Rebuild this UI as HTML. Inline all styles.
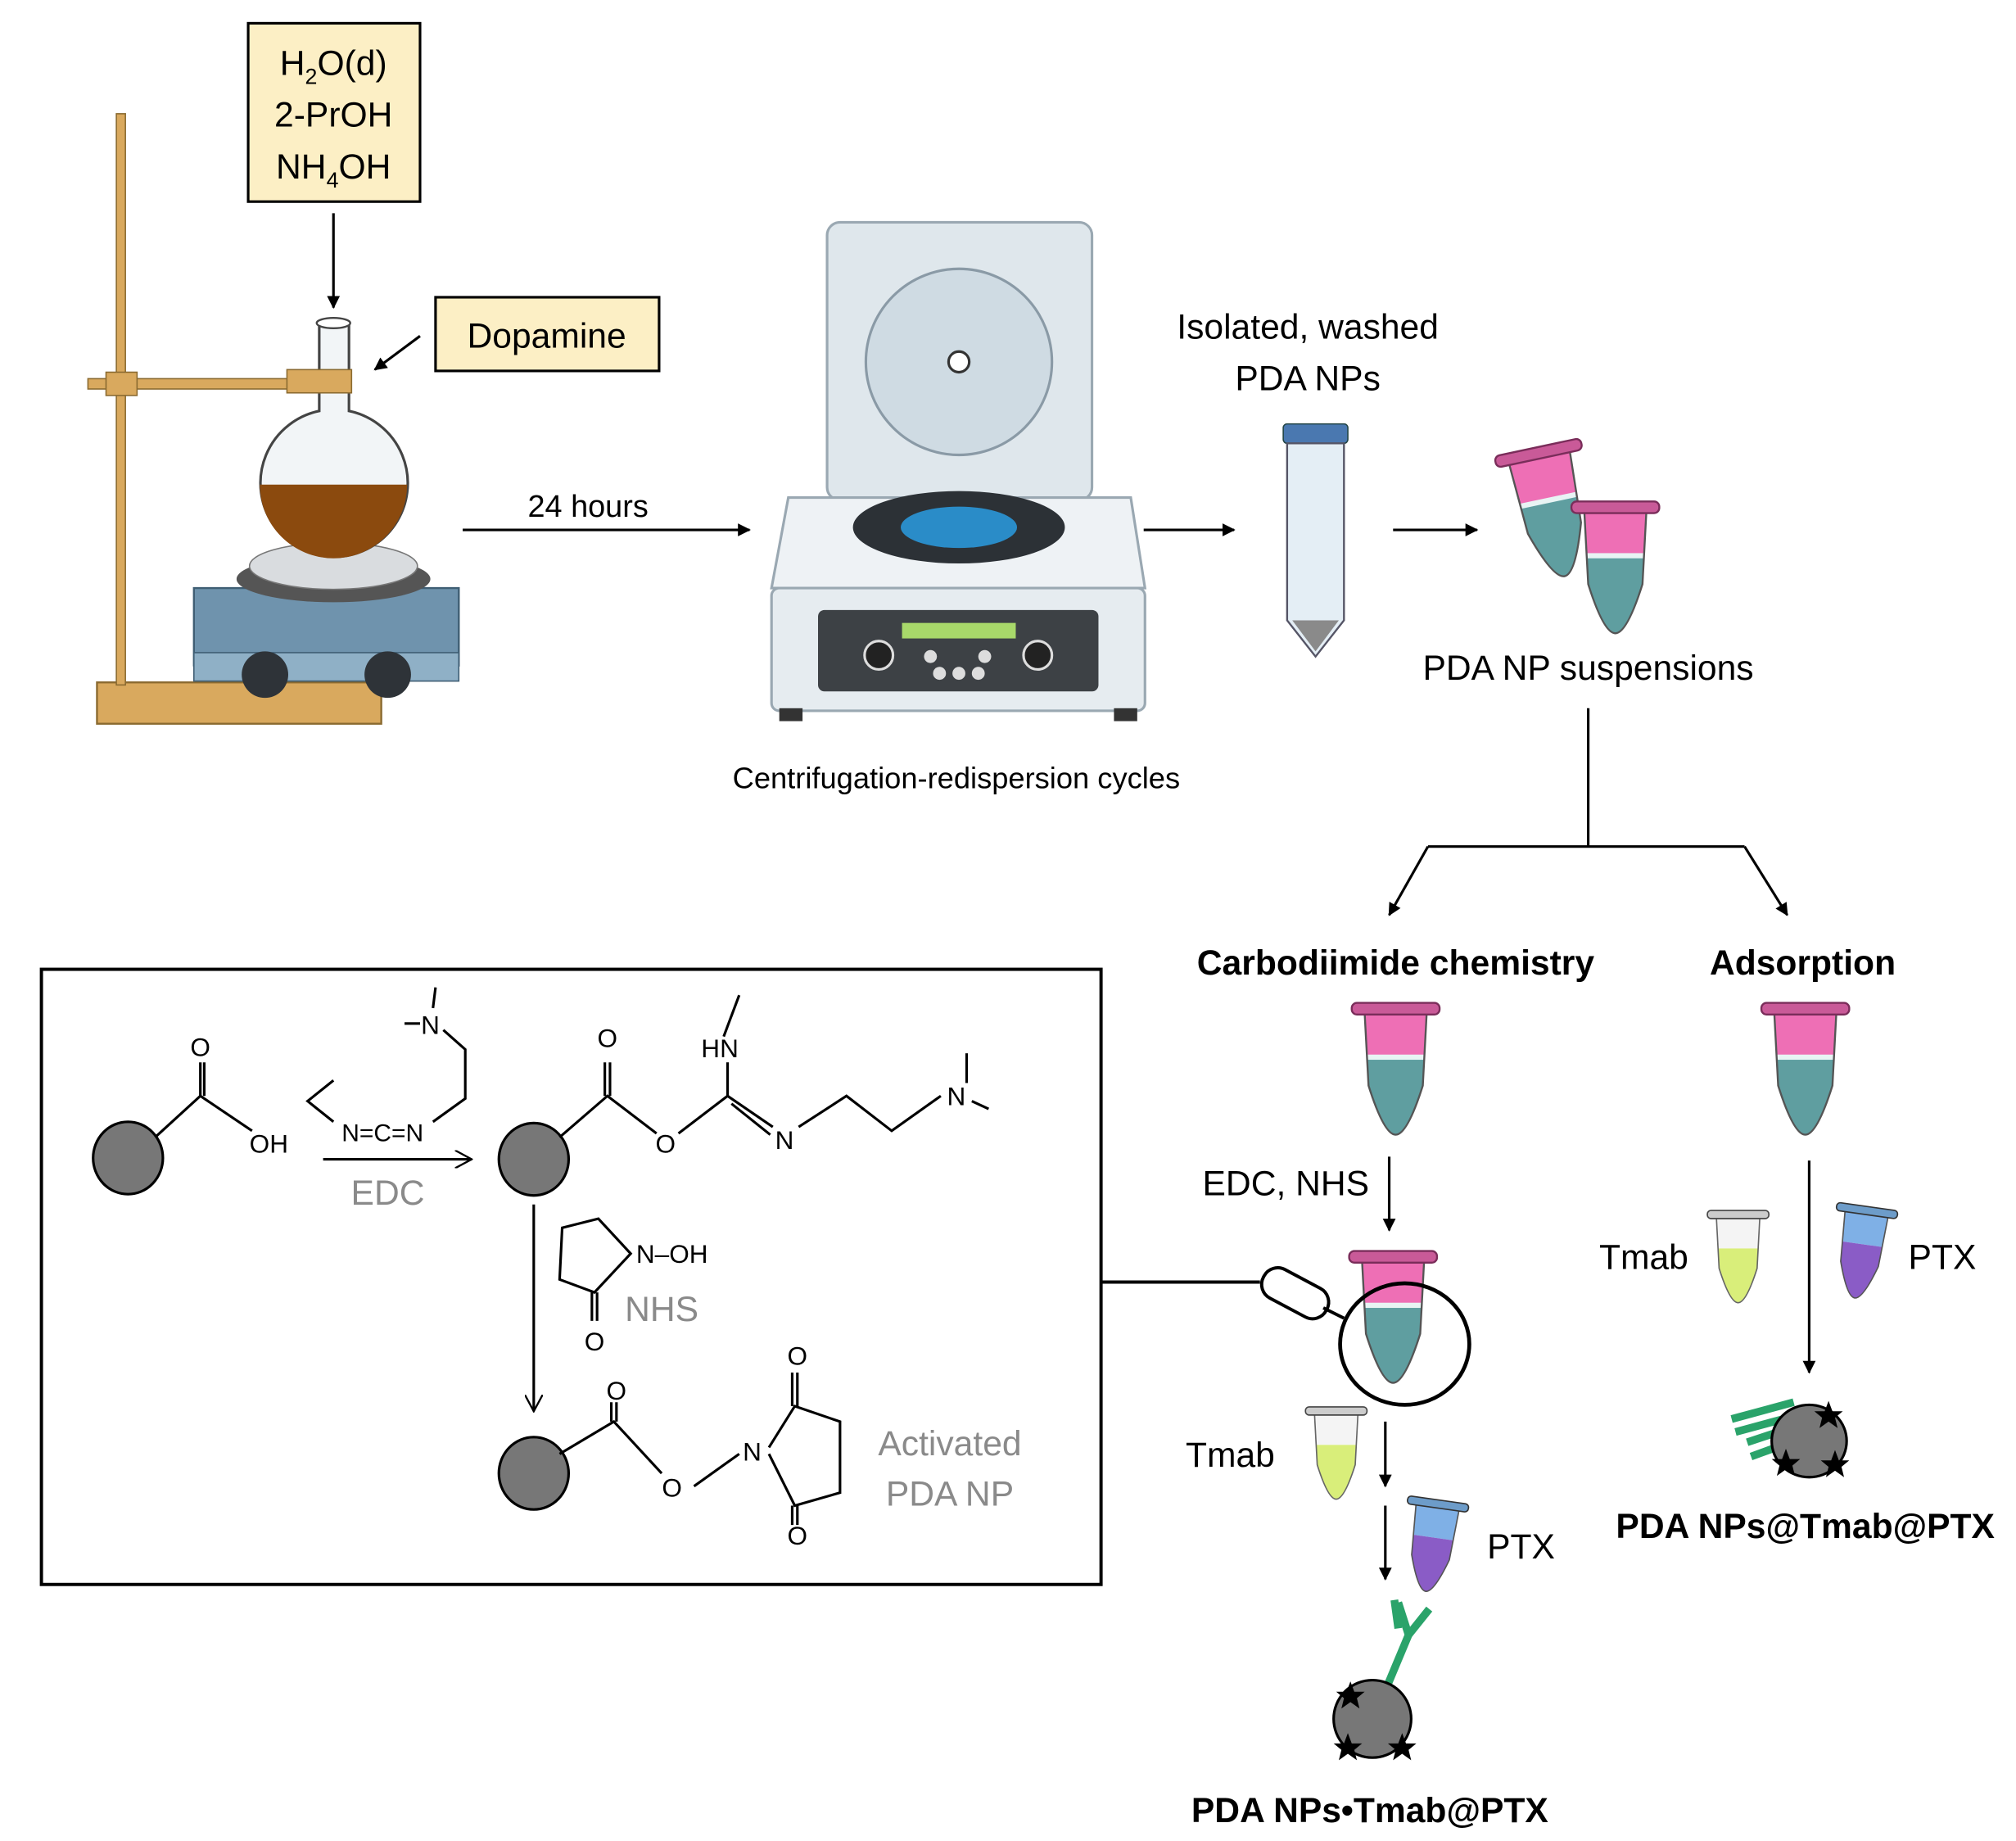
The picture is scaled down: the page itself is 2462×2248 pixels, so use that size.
<!DOCTYPE html>
<html><head><meta charset="utf-8"><style>
html,body{margin:0;padding:0;background:#fff}
svg{display:block}
text{font-family:"Liberation Sans",sans-serif}
</style></head><body>
<svg width="2462" height="2248" viewBox="0 0 1560 1424.5" xmlns="http://www.w3.org/2000/svg">
<defs>
<marker id="ah" markerWidth="10" markerHeight="10" refX="9" refY="5" orient="auto" markerUnits="userSpaceOnUse"><path d="M0,0 L10,5 L0,10 Z" fill="#000"/></marker>
<marker id="oh" markerWidth="14" markerHeight="14" refX="13" refY="7" orient="auto" markerUnits="userSpaceOnUse"><path d="M0,0 L13,7 L0,14" fill="none" stroke="#000" stroke-width="1.5"/></marker>
<clipPath id="tc"><path d="M-24,6 L24,6 L21,62 Q9,100 0,100 Q-9,100 -21,62 Z"/></clipPath>
<g id="tubePink">
<g clip-path="url(#tc)"><rect x="-30" y="0" width="60" height="40" fill="#ee6fb5"/><rect x="-30" y="40" width="60" height="70" fill="#5f9ea0"/><rect x="-30" y="38" width="60" height="4" fill="#e8f4f4"/></g>
<path d="M-24,6 L24,6 L21,62 Q9,100 0,100 Q-9,100 -21,62 Z" fill="none" stroke="#555" stroke-width="1.5"/>
<rect x="-34" y="-2" width="68" height="9" rx="4" fill="#c95a98" stroke="#7a2d5a" stroke-width="1.5"/>
</g>
<g id="tubeYellow">
<g clip-path="url(#tc)"><rect x="-30" y="0" width="60" height="40" fill="#f4f4f4"/><rect x="-30" y="40" width="60" height="70" fill="#d9ee7a"/></g>
<path d="M-24,6 L24,6 L21,62 Q9,100 0,100 Q-9,100 -21,62 Z" fill="none" stroke="#666" stroke-width="1.5"/>
<rect x="-34" y="-2" width="68" height="9" rx="4" fill="#ccc" stroke="#444" stroke-width="1.5"/>
</g>
<g id="tubePurple">
<g clip-path="url(#tc)"><rect x="-30" y="0" width="60" height="40" fill="#7fb0e6"/><rect x="-30" y="40" width="60" height="70" fill="#8a5cc6"/></g>
<path d="M-24,6 L24,6 L21,62 Q9,100 0,100 Q-9,100 -21,62 Z" fill="none" stroke="#555" stroke-width="1.5"/>
<rect x="-34" y="-2" width="68" height="9" rx="4" fill="#6d9cc9" stroke="#333" stroke-width="1.5"/>
</g>
<path id="star" d="M0,-11 L3,-3 L11,-3 L5,2 L7,10 L0,5 L-7,10 L-5,2 L-11,-3 L-3,-3 Z" fill="#000"/>
</defs>

<rect x="192" y="18" width="133" height="138" fill="#fcefc5" stroke="#000" stroke-width="2"/>
<text x="258" y="58" font-size="27" text-anchor="middle">H<tspan font-size="17" dy="7">2</tspan><tspan dy="-7">O(d)</tspan></text>
<text x="258" y="98" font-size="27" text-anchor="middle">2-PrOH</text>
<text x="258" y="138" font-size="27" text-anchor="middle">NH<tspan font-size="17" dy="7">4</tspan><tspan dy="-7">OH</tspan></text>
<line x1="258" y1="165" x2="258" y2="238" stroke="#000" stroke-width="2" marker-end="url(#ah)"/>
<rect x="337" y="230" width="173" height="57" fill="#fcefc5" stroke="#000" stroke-width="2"/>
<text x="423" y="269" font-size="27" text-anchor="middle">Dopamine</text>
<line x1="325" y1="260" x2="290" y2="286" stroke="#000" stroke-width="2" marker-end="url(#ah)"/>

<rect x="75" y="528" width="220" height="32" fill="#d9a95e" stroke="#8a6a30" stroke-width="1.5"/>
<rect x="90" y="88" width="7" height="442" fill="#d9a95e" stroke="#8a6a30" stroke-width="1"/>
<rect x="68" y="293" width="172" height="8" fill="#d9a95e" stroke="#8a6a30" stroke-width="1"/>
<rect x="82" y="288" width="24" height="18" fill="#d9a95e" stroke="#8a6a30"/>
<path d="M150,455 L355,455 L355,515 L150,515 Z" fill="#6f93ad" stroke="#3f5e74" stroke-width="1.5"/>
<rect x="150" y="505" width="205" height="22" fill="#8fb0c6" stroke="#3f5e74"/>
<ellipse cx="258" cy="448" rx="75" ry="18" fill="#555"/>
<ellipse cx="258" cy="438" rx="65" ry="18" fill="#d9dcdf" stroke="#777"/>
<circle cx="205" cy="522" r="18" fill="#2e3338"/><circle cx="300" cy="522" r="18" fill="#2e3338"/>
<path d="M247,250 L270,250 L270,318 A57,57 0 1 1 247,318 Z" fill="#f2f5f7" stroke="#444" stroke-width="2"/>
<path d="M201,375 L315,375 A57,57 0 0 1 201,375 Z" fill="#8b4a0e"/>
<ellipse cx="258" cy="250" rx="13" ry="4" fill="#fff" stroke="#444" stroke-width="1.5"/>
<rect x="222" y="286" width="50" height="18" fill="#d9a95e" stroke="#8a6a30"/>

<line x1="358" y1="410" x2="580" y2="410" stroke="#000" stroke-width="2" marker-end="url(#ah)"/>
<text x="455" y="400" font-size="24" text-anchor="middle">24 hours</text>

<rect x="640" y="172" width="205" height="215" rx="10" fill="#dfe7ec" stroke="#9aa8b2" stroke-width="2"/>
<circle cx="742" cy="280" r="72" fill="#cfdbe3" stroke="#8a9aa6" stroke-width="2"/>
<circle cx="742" cy="280" r="8" fill="#fff" stroke="#333" stroke-width="2"/>
<path d="M610,385 L875,385 L886,455 L597,455 Z" fill="#eef2f5" stroke="#9aa8b2" stroke-width="2"/>
<ellipse cx="742" cy="408" rx="82" ry="28" fill="#2c3136"/>
<ellipse cx="742" cy="408" rx="45" ry="16" fill="#2a8cc8"/>
<rect x="597" y="455" width="289" height="95" rx="6" fill="#e6ecf0" stroke="#9aa8b2" stroke-width="2"/>
<rect x="633" y="472" width="217" height="63" rx="5" fill="#3d4145"/>
<rect x="698" y="482" width="88" height="12" fill="#a8d86a"/>
<circle cx="680" cy="507" r="11" fill="#222" stroke="#ddd" stroke-width="2"/><circle cx="803" cy="507" r="11" fill="#222" stroke="#ddd" stroke-width="2"/>
<circle cx="720" cy="508" r="5" fill="#ddd"/><circle cx="762" cy="508" r="5" fill="#ddd"/><circle cx="727" cy="521" r="5" fill="#ddd"/><circle cx="742" cy="521" r="5" fill="#ddd"/><circle cx="757" cy="521" r="5" fill="#ddd"/>
<rect x="603" y="548" width="18" height="10" fill="#333"/><rect x="862" y="548" width="18" height="10" fill="#333"/>
<text x="740" y="610" font-size="23" text-anchor="middle">Centrifugation-redispersion cycles</text>

<line x1="885" y1="410" x2="955" y2="410" stroke="#000" stroke-width="2" marker-end="url(#ah)"/>
<text x="1012" y="262" font-size="27" text-anchor="middle">Isolated, washed</text>
<text x="1012" y="302" font-size="27" text-anchor="middle">PDA NPs</text>
<rect x="993" y="328" width="50" height="15" rx="3" fill="#4a78b0" stroke="#244"/>
<path d="M996,343 L1040,343 L1040,480 L1018,508 L996,480 Z" fill="#e4eef5" stroke="#556" stroke-width="1.5"/>
<path d="M1000,480 L1036,480 L1018,504 Z" fill="#8a8a8a"/>
<line x1="1078" y1="410" x2="1143" y2="410" stroke="#000" stroke-width="2" marker-end="url(#ah)"/>
<use href="#tubePink" transform="translate(1190,348) rotate(-12)"/>
<use href="#tubePink" transform="translate(1250,390)"/>
<text x="1229" y="526" font-size="27" text-anchor="middle">PDA NP suspensions</text>

<path d="M1229,548 L1229,655 M1105,655 L1350,655" stroke="#000" stroke-width="2" fill="none"/>
<line x1="1105" y1="655" x2="1075" y2="708" stroke="#000" stroke-width="2" marker-end="url(#ah)"/>
<line x1="1350" y1="655" x2="1383" y2="708" stroke="#000" stroke-width="2" marker-end="url(#ah)"/>
<text x="1080" y="754" font-size="27" font-weight="bold" text-anchor="middle">Carbodiimide chemistry</text>
<text x="1395" y="754" font-size="27" font-weight="bold" text-anchor="middle">Adsorption</text>
<use href="#tubePink" transform="translate(1080,778)"/>
<use href="#tubePink" transform="translate(1397,778)"/>

<text x="995" y="925" font-size="27" text-anchor="middle">EDC, NHS</text>
<line x1="1075" y1="895" x2="1075" y2="952" stroke="#000" stroke-width="2" marker-end="url(#ah)"/>
<use href="#tubePink" transform="translate(1078,970)"/>
<ellipse cx="1087" cy="1040" rx="50" ry="47" fill="none" stroke="#000" stroke-width="3"/>
<rect x="975" y="988" width="55" height="25" rx="12" transform="rotate(28 1002 1000)" fill="#fff" stroke="#000" stroke-width="2.5"/>
<line x1="1024" y1="1012" x2="1040" y2="1020" stroke="#000" stroke-width="2.5"/>
<line x1="852" y1="992" x2="975" y2="992" stroke="#000" stroke-width="2.5"/>
<text x="952" y="1135" font-size="27" text-anchor="middle">Tmab</text>
<use href="#tubeYellow" transform="translate(1034,1090) scale(0.7)"/>
<line x1="1072" y1="1100" x2="1072" y2="1150" stroke="#000" stroke-width="2" marker-end="url(#ah)"/>
<line x1="1072" y1="1165" x2="1072" y2="1222" stroke="#000" stroke-width="2" marker-end="url(#ah)"/>
<use href="#tubePurple" transform="translate(1113,1162) scale(0.7) rotate(8)"/>
<text x="1177" y="1206" font-size="27" text-anchor="middle">PTX</text>
<g stroke="#2aa36a" stroke-width="6" fill="none"><line x1="1072" y1="1308" x2="1090" y2="1265"/><line x1="1090" y1="1265" x2="1082" y2="1240"/><line x1="1090" y1="1265" x2="1106" y2="1245"/><line x1="1079" y1="1238" x2="1082" y2="1260"/></g>
<ellipse cx="1062" cy="1330" rx="30" ry="30" fill="#777" stroke="#000" stroke-width="2"/>
<use href="#star" transform="translate(1045,1312)"/><use href="#star" transform="translate(1043,1352)"/><use href="#star" transform="translate(1085,1352)"/>
<text x="1060" y="1410" font-size="27" font-weight="bold" text-anchor="middle">PDA NPs•Tmab@PTX</text>

<text x="1272" y="982" font-size="27" text-anchor="middle">Tmab</text>
<use href="#tubeYellow" transform="translate(1345,938) scale(0.7)"/>
<use href="#tubePurple" transform="translate(1445,935) scale(0.7) rotate(8)"/>
<text x="1503" y="982" font-size="27" text-anchor="middle">PTX</text>
<line x1="1400" y1="898" x2="1400" y2="1062" stroke="#000" stroke-width="2" marker-end="url(#ah)"/>
<g stroke="#2aa36a" stroke-width="6" fill="none"><line x1="1340" y1="1098" x2="1388" y2="1085"/><line x1="1343" y1="1108" x2="1391" y2="1095"/><line x1="1352" y1="1116" x2="1385" y2="1105"/><line x1="1355" y1="1127" x2="1388" y2="1115"/></g>
<ellipse cx="1400" cy="1115" rx="29" ry="28" fill="#777" stroke="#000" stroke-width="2"/>
<use href="#star" transform="translate(1415,1095)"/><use href="#star" transform="translate(1382,1132)"/><use href="#star" transform="translate(1420,1133)"/>
<text x="1397" y="1190" font-size="27" font-weight="bold" text-anchor="middle">PDA NPs@Tmab@PTX</text>

<rect x="32" y="750" width="820" height="476" fill="none" stroke="#000" stroke-width="2.5"/>
<g stroke="#000" stroke-width="2" fill="none">
<ellipse cx="99" cy="896" rx="27" ry="28" fill="#777"/>
<path d="M120,880 L155,848 L195,875"/><path d="M155,848 L155,822 M158,848 L158,822"/>
<ellipse cx="413" cy="897" rx="27" ry="28" fill="#777"/>
<path d="M433,880 L470,848 L508,877"/><path d="M468,848 L468,822 M472,848 L472,822"/>
<path d="M525,877 L563,848 L598,872"/><path d="M566,854 L596,878"/><path d="M563,848 L563,822"/><path d="M560,802 L572,770"/>
<path d="M618,872 L655,848 L690,875 L728,848"/><path d="M748,838 L748,815"/><path d="M752,852 L765,858"/>
<path d="M258,868 L238,852 L258,836"/><path d="M335,868 L360,850 L360,812 L343,797"/><path d="M313,792 L325,792"/><path d="M335,780 L337,764"/>
<line x1="250" y1="897" x2="365" y2="897" marker-end="url(#oh)"/>
<line x1="413" y1="932" x2="413" y2="1092" marker-end="url(#oh)"/>
<path d="M488,970 L463,943 L435,950 L433,990 L460,1000 Z"/><path d="M458,1000 L458,1022 M462,1000 L462,1022"/>
<ellipse cx="413" cy="1140" rx="27" ry="28" fill="#777"/>
<path d="M433,1125 L475,1100 L512,1140"/><path d="M473,1100 L473,1085 M477,1100 L477,1085"/><path d="M537,1150 L572,1125"/>
<path d="M595,1120 L615,1088 L650,1100 L650,1155 L615,1165 L595,1125"/><path d="M613,1088 L613,1062 M617,1088 L617,1062"/><path d="M613,1165 L613,1180 M617,1165 L617,1180"/>
</g>
<g font-size="20" text-anchor="middle">
<text x="155" y="817">O</text><text x="208" y="892">OH</text>
<text x="296" y="883" font-size="19">N=C=N</text><text x="333" y="800">N</text>
<text x="470" y="810">O</text><text x="515" y="892">O</text><text x="557" y="818">HN</text><text x="607" y="889">N</text><text x="740" y="855">N</text>
<text x="520" y="977">N–OH</text><text x="460" y="1045">O</text>
<text x="477" y="1083">O</text><text x="520" y="1158">O</text><text x="582" y="1130">N</text><text x="617" y="1056">O</text><text x="617" y="1195">O</text>
</g>
<g fill="#8a8a8a" font-size="27" text-anchor="middle">
<text x="300" y="932">EDC</text><text x="512" y="1022">NHS</text>
<text x="735" y="1126">Activated</text><text x="735" y="1165">PDA NP</text>
</g>
</svg>
</body></html>
